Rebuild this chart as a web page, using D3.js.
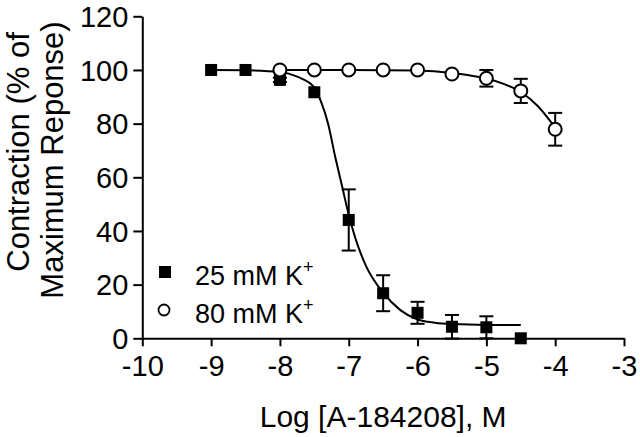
<!DOCTYPE html>
<html>
<head>
<meta charset="utf-8">
<script src="https://cdn.jsdelivr.net/npm/d3@7"></script>
<style>
  body { margin: 0; background: #fff; }
  svg text { font-family: "Liberation Sans", Arial, sans-serif; fill: #000; }
</style>
</head>
<body>
<div id="chart"></div>
<script>
// Data
var logConc25 = [-9, -8.5, -8, -7.5, -7, -6.5, -6, -5.5, -5, -4.5];
var mean25    = [100, 100, 96.3, 91.7, 44.1, 16.8, 9.5, 4.3, 4.1, 0];
var sem25     = [0, 0, 0.8, 0, 11.4, 6.7, 4.1, 4.4, 4.1, 0];

var logConc80 = [-8, -7.5, -7, -6.5, -6, -5.5, -5, -4.5, -4];
var mean80    = [100, 100, 100, 100, 100, 98.5, 96.9, 92.2, 77.9];
var sem80     = [0, 0, 0, 0, 0, 0, 3.1, 4.5, 6.1];

// fitted curves
var fitX25 = [-9, -8.5, -8, -7.75, -7.5, -7.4, -7.3, -7.2, -7.1, -7, -6.9, -6.75, -6.5, -6.25, -6, -5.75, -5.5, -5, -4.5];
var fitY25 = [100, 99.9, 99.2, 97.5, 93.5, 88, 80, 68, 57, 46, 37, 27, 17, 10.5, 7, 5.8, 5.3, 5.0, 5.0];

var fitX80 = [-8, -7, -6, -5.5, -5.25, -5, -4.75, -4.5, -4.25, -4];
var fitY80 = [100, 100, 99.8, 98.9, 98, 96.8, 94.8, 91.8, 86.5, 78.5];

var xTicks = [-10, -9, -8, -7, -6, -5, -4, -3];
var yTicks = [0, 20, 40, 60, 80, 100, 120];

var seriesNames = ["25 mM K", "80 mM K"];

//Define SVG
var W = 640, H = 437;
var svg = d3.select("#chart").append("svg")
    .attr("width", W)
    .attr("height", H);

//Define Scales
var xScale = d3.scaleLinear().domain([-10, -3]).range([142.3, 624]);
var yScale = d3.scaleLinear().domain([0, 120]).range([338.3, 16.3]);

var fs = 29;

//Axes (plain hyphen for negatives, like the figure)
var xAxis = d3.axisBottom(xScale).tickValues(xTicks)
    .tickFormat(function(d) { return String(d); })
    .tickSizeInner(8).tickSizeOuter(0).tickPadding(9);
var yAxis = d3.axisLeft(yScale).tickValues(yTicks)
    .tickFormat(function(d) { return String(d); })
    .tickSizeInner(9).tickSizeOuter(0).tickPadding(5);

var gx = svg.append("g")
    .attr("transform", "translate(0," + yScale(0) + ")")
    .call(xAxis);
var gy = svg.append("g")
    .attr("transform", "translate(" + xScale(-10) + ",0)")
    .call(yAxis);

[gx, gy].forEach(function(g) {
    g.selectAll("path, line").attr("stroke", "#000").attr("stroke-width", 2);
    g.selectAll("text").attr("font-size", fs + "px")
        .style("font-family", '"Liberation Sans", Arial, sans-serif')
        .attr("fill", "#000");
});
gy.selectAll("text").attr("dy", "0.35em");

//axis titles
svg.append("text")
    .attr("x", (xScale(-10) + xScale(-3)) / 2)
    .attr("y", 427)
    .attr("text-anchor", "middle")
    .attr("font-size", "30px")
    .text("Log [A-184208], M");

var yt = svg.append("text")
    .attr("transform", "rotate(-90)")
    .attr("text-anchor", "middle")
    .attr("font-size", "31px");
yt.append("tspan").attr("x", -152).attr("y", 29).text("Contraction (% of");
yt.append("tspan").attr("x", -160).attr("y", 63).text("Maximum Reponse)");

//curves
var line = d3.line()
    .x(function(d) { return xScale(d[0]); })
    .y(function(d) { return yScale(d[1]); })
    .curve(d3.curveMonotoneX);

svg.append("path")
    .datum(d3.zip(fitX25, fitY25))
    .attr("d", line)
    .attr("fill", "none").attr("stroke", "#000").attr("stroke-width", 2);

svg.append("path")
    .datum(d3.zip(fitX80, fitY80))
    .attr("d", line)
    .attr("fill", "none").attr("stroke", "#000").attr("stroke-width", 2);

//error bars
function errorBars(xs, ms, es) {
    var d = d3.zip(xs, ms, es).filter(function(r) { return r[2] > 0; });
    var g = svg.append("g").attr("stroke", "#000").attr("stroke-width", 2);
    g.selectAll(".v").data(d).enter().append("line")
        .attr("x1", function(r) { return xScale(r[0]); })
        .attr("x2", function(r) { return xScale(r[0]); })
        .attr("y1", function(r) { return yScale(r[1] - r[2]); })
        .attr("y2", function(r) { return yScale(r[1] + r[2]); });
    [-1, 1].forEach(function(s) {
        g.selectAll(".c" + s).data(d).enter().append("line")
            .attr("x1", function(r) { return xScale(r[0]) - 7; })
            .attr("x2", function(r) { return xScale(r[0]) + 7; })
            .attr("y1", function(r) { return yScale(r[1] + s * r[2]); })
            .attr("y2", function(r) { return yScale(r[1] + s * r[2]); });
    });
}
errorBars(logConc25, mean25, sem25);
errorBars(logConc80, mean80, sem80);

//markers
var sq = 12;
svg.selectAll(".sq").data(d3.zip(logConc25, mean25)).enter().append("rect")
    .attr("x", function(d) { return xScale(d[0]) - sq / 2; })
    .attr("y", function(d) { return yScale(d[1]) - sq / 2; })
    .attr("width", sq).attr("height", sq)
    .attr("fill", "#000");

svg.selectAll(".ci").data(d3.zip(logConc80, mean80)).enter().append("circle")
    .attr("cx", function(d) { return xScale(d[0]); })
    .attr("cy", function(d) { return yScale(d[1]); })
    .attr("r", 6.5)
    .attr("fill", "#fff").attr("stroke", "#000").attr("stroke-width", 2);

//legend
var lg = svg.append("g");
lg.append("rect").attr("x", 159).attr("y", 266).attr("width", 12).attr("height", 12).attr("fill", "#000");
lg.append("circle").attr("cx", 164).attr("cy", 310).attr("r", 5.5)
    .attr("fill", "#fff").attr("stroke", "#000").attr("stroke-width", 1.8);
[285, 323].forEach(function(y, i) {
    var t = lg.append("text").attr("x", 195).attr("y", y).attr("font-size", "27px");
    t.append("tspan").text(seriesNames[i]);
    t.append("tspan").attr("dy", -12).attr("font-size", "18px").text("+");
});
</script>
</body>
</html>
